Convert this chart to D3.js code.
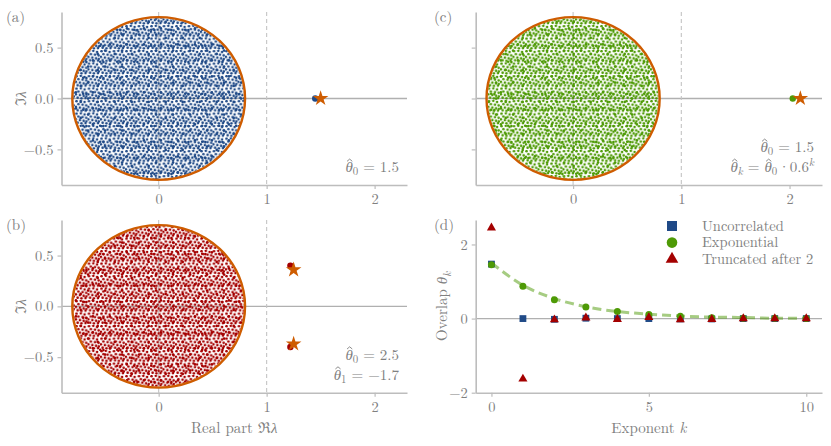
<!DOCTYPE html>
<html>
<head>
<meta charset="utf-8">
<script src="https://cdn.jsdelivr.net/npm/d3@7"></script>
<style>
  body { margin: 0; background: #fff; }
  text { fill: #808080; }
</style>
</head>
<body>
<svg id="fig" width="831" height="446"></svg>
<script>
// ---- data ----
const bulkRadius = 0.8;                 // radius of the eigenvalue bulk
const outlierA = [[1.45, 0]];
const predictedA = [[1.5, 0]];
const outlierB = [[1.22, 0.40], [1.22, -0.40]];
const predictedB = [[1.25, 0.36], [1.25, -0.37]];
const outlierC = [[2.03, 0]];
const predictedC = [[2.10, 0]];

const eigXTicks = [0, 1, 2];
const eigYTicks = [-0.5, 0, 0.5];

const exponents = [0, 1, 2, 3, 4, 5, 6, 7, 8, 9, 10];
const uncorrelated = [1.47, 0.0, -0.02, 0.01, 0.0, 0.0, -0.01, -0.01, 0.0, 0.0, 0.0];
const exponential = [1.45, 0.87, 0.51, 0.31, 0.19, 0.11, 0.06, 0.02, 0.01, 0.01, 0.0];
const truncated = [2.45, -1.63, -0.03, 0.02, -0.02, 0.03, -0.03, -0.02, 0.0, 0.0, 0.0];
const expTheory = [1.5, 0.9, 0.54, 0.32, 0.19, 0.12, 0.07, 0.04, 0.03, 0.01, 0.01];
const overlapXTicks = [0, 5, 10];
const overlapYTicks = [-2, 0, 2];

const legendLabels = ["Uncorrelated", "Exponential", "Truncated after 2"];

// ---- pick a serif face that is actually installed ----
const pickFont = list => {
  const ctx = document.createElement("canvas").getContext("2d");
  const probe = "Truncated after 2 0.5 θλ";
  const w = f => { ctx.font = "20px " + f; return ctx.measureText(probe).width; };
  const base = ["monospace", "sans-serif"].map(w);
  return list.find(f => {
    const q = `"${f}"`;
    return w(`${q}, monospace`) !== base[0] || w(`${q}, sans-serif`) !== base[1];
  });
};
const serifFace = pickFont(["Latin Modern Roman", "CMU Serif", "Liberation Serif", "DejaVu Serif",
  "Noto Serif", "Times New Roman", "Tinos", "FreeSerif"]);
const FONT = serifFace ? `"${serifFace}", serif` : "serif";

// ---- style ----
const blue = "#204a87", green = "#4e9a06", red = "#a40000", orange = "#ce5c00";
const spine = "#bdbdbd";
const fmt = d3.format(".1f");

const svg = d3.select("#fig").style("font-family", FONT);
const defs = svg.append("defs");

// the bulk of eigenvalues is drawn as a dotted texture inside the disk
const tileA = [[1.5,1.2],[5.8,0.8],[9.6,2.0],[3.4,4.1],[7.5,4.6],[11.2,5.4],[0.9,6.9],
               [4.9,7.6],[8.6,8.3],[2.6,10.3],[6.4,10.9],[10.5,10.6],[11.4,8.9]];
const tileB = [[3.1,2.6],[12.7,5.9],[7.9,12.4],[15.2,13.8],[1.4,14.1]];
const makeTexture = (id, color) => {
  const p1 = defs.append("pattern").attr("id", id + "1")
    .attr("patternUnits", "userSpaceOnUse").attr("width", 12.5).attr("height", 12.5);
  p1.selectAll("circle").data(tileA).join("circle")
    .attr("cx", d => d[0]).attr("cy", d => d[1]).attr("r", 1.3).attr("fill", color);
  const p2 = defs.append("pattern").attr("id", id + "2")
    .attr("patternUnits", "userSpaceOnUse").attr("width", 17).attr("height", 16);
  p2.selectAll("circle").data(tileB).join("circle")
    .attr("cx", d => d[0]).attr("cy", d => d[1]).attr("r", 1.3).attr("fill", color);
};
makeTexture("texBlue", blue);
makeTexture("texRed", red);
makeTexture("texGreen", green);

const styleAxis = g => {
  g.attr("font-family", FONT).attr("font-size", 14.5);
  g.select(".domain").attr("stroke", spine).attr("stroke-width", 1.6);
  g.selectAll(".tick line").attr("stroke", spine).attr("stroke-width", 1.2);
  g.selectAll(".tick text").attr("fill", "#808080");
};

// simple math-like text built from tspans; hats are drawn over the marked glyphs
const mathText = (g, x, y, parts, anchor = "end", size = 15) => {
  const t = g.append("text").attr("x", x).attr("y", y)
    .attr("text-anchor", anchor).style("font-size", size + "px");
  let shift = 0, count = 0;
  const hats = [];
  parts.forEach(p => {
    const target = p.sub ? 3 : p.sup ? -6 : 0;
    const s = t.append("tspan").text(p.t).attr("dy", target - shift);
    if (p.dx) s.attr("dx", p.dx);
    if (p.it) s.style("font-style", "italic");
    if (p.sub || p.sup) s.style("font-size", (size * 0.72) + "px");
    if (p.hat) hats.push(count);
    count += p.t.length;
    shift = target;
  });
  hats.forEach(i => {
    const e = t.node().getExtentOfChar(i);
    const cx = e.x + e.width * 0.58, top = y - size * 0.86;
    g.append("path")
      .attr("d", `M${cx - 2.6},${top + 2.2}L${cx},${top}L${cx + 2.6},${top + 2.2}`)
      .attr("fill", "none").attr("stroke", "#808080").attr("stroke-width", 0.9);
  });
  return t;
};

const panelLabel = (x, y, s) => svg.append("text").attr("x", x).attr("y", y)
  .style("font-size", "15px").text(s);

function eigenPanel(box, tex, color, outliers, predicted, o) {
  const x = d3.scaleLinear().domain([-0.9, 2.3]).range([box.l, box.r]);
  const y = d3.scaleLinear().domain([-0.85, 0.85]).range([box.b, box.t]);
  const g = svg.append("g");

  // reference lines
  g.append("line").attr("x1", box.l).attr("x2", box.r).attr("y1", y(0)).attr("y2", y(0))
    .attr("stroke", "#b0b0b0").attr("stroke-width", 1.3);
  g.append("line").attr("x1", x(0)).attr("x2", x(0)).attr("y1", box.t).attr("y2", box.b)
    .attr("stroke", "#c4c4c4").attr("stroke-width", 1.1);
  g.append("line").attr("x1", x(1)).attr("x2", x(1)).attr("y1", box.t).attr("y2", box.b)
    .attr("stroke", "#c4c4c4").attr("stroke-width", 1.1).attr("stroke-dasharray", "4,3");

  // bulk
  const rx = x(bulkRadius) - x(0), ry = y(0) - y(bulkRadius);
  ["1", "2"].forEach(k => g.append("ellipse")
    .attr("cx", x(0)).attr("cy", y(0)).attr("rx", rx - 1).attr("ry", ry - 1)
    .attr("fill", `url(#${tex}${k})`));
  g.append("ellipse").attr("cx", x(0)).attr("cy", y(0)).attr("rx", rx).attr("ry", ry)
    .attr("fill", "none").attr("stroke", orange).attr("stroke-width", 2.4);

  // outliers and predictions
  g.selectAll(".out").data(outliers).join("circle")
    .attr("cx", d => x(d[0])).attr("cy", d => y(d[1])).attr("r", 3.2).attr("fill", color);
  g.selectAll(".pred").data(predicted).join("path")
    .attr("transform", d => `translate(${x(d[0])},${y(d[1])})`)
    .attr("d", d3.symbol(d3.symbolStar, 75)).attr("fill", orange);

  // axes
  g.append("g").attr("transform", `translate(0,${box.b})`)
    .call(d3.axisBottom(x).tickValues(eigXTicks).tickSize(4).tickSizeOuter(0).tickPadding(5)
      .tickFormat(d3.format("d")))
    .call(styleAxis);
  g.append("g").attr("transform", `translate(${box.l},0)`)
    .call(d3.axisLeft(y).tickValues(eigYTicks).tickSize(4).tickSizeOuter(0).tickPadding(4)
      .tickFormat(o.yLabels ? fmt : ""))
    .call(styleAxis);

  if (o.yTitle) {
    const t = g.append("text").attr("transform", `translate(26,${(box.t + box.b) / 2}) rotate(-90)`)
      .attr("text-anchor", "middle").style("font-size", "15px");
    t.append("tspan").text("\u2111");
    t.append("tspan").text("\u03bb").style("font-style", "italic");
  }
  if (o.xTitle) {
    const t = g.append("text").attr("x", (box.l + box.r) / 2).attr("y", box.b + 40)
      .attr("text-anchor", "middle").style("font-size", "15px");
    t.append("tspan").text("Real part \u211c");
    t.append("tspan").text("\u03bb").style("font-style", "italic");
  }
  o.notes.forEach((parts, i) => mathText(g, box.r - 8, box.b - 13 - (o.notes.length - 1 - i) * 20, parts));
}

const boxA = {l: 61.5, r: 407, t: 12, b: 185};
const boxB = {l: 61.5, r: 407, t: 220, b: 392.7};
const boxC = {l: 475.7, r: 822, t: 12, b: 185};
const boxD = {l: 475.7, r: 822, t: 220, b: 392.7};

const th = {t: "\u03b8", it: true, hat: true};
eigenPanel(boxA, "texBlue", blue, outlierA, predictedA, {
  yLabels: true, yTitle: true,
  notes: [[th, {t: "0", sub: true}, {t: " = 1.5"}]]
});
eigenPanel(boxB, "texRed", red, outlierB, predictedB, {
  yLabels: true, yTitle: true, xTitle: true,
  notes: [
    [th, {t: "0", sub: true}, {t: " = 2.5"}],
    [th, {t: "1", sub: true}, {t: " = \u22121.7"}]
  ]
});
eigenPanel(boxC, "texGreen", green, outlierC, predictedC, {
  yLabels: false,
  notes: [
    [th, {t: "0", sub: true}, {t: " = 1.5"}],
    [th, {t: "k", sub: true, it: true}, {t: " = "},
     th, {t: "0", sub: true}, {t: "\u00b7", dx: 1}, {t: "0.6"}, {t: "k", sup: true, it: true}]
  ]
});

// ---- panel (d): overlaps ----
{
  const box = boxD;
  const x = d3.scaleLinear().domain([-0.5, 10.5]).range([box.l, box.r]);
  const y = d3.scaleLinear().domain([-2, 2.66]).range([box.b, box.t]);
  const g = svg.append("g");

  g.append("line").attr("x1", box.l).attr("x2", box.r).attr("y1", y(0)).attr("y2", y(0))
    .attr("stroke", "#b0b0b0").attr("stroke-width", 1.3);

  g.append("path").datum(exponents)
    .attr("d", d3.line().x(k => x(k)).y((k, i) => y(expTheory[i])).curve(d3.curveMonotoneX))
    .attr("fill", "none").attr("stroke", green).attr("stroke-opacity", 0.5)
    .attr("stroke-width", 3).attr("stroke-dasharray", "9,5");

  g.selectAll(".sq").data(exponents).join("rect")
    .attr("x", k => x(k) - 3.4).attr("y", (k, i) => y(uncorrelated[i]) - 3.4)
    .attr("width", 6.8).attr("height", 6.8).attr("fill", blue);
  g.selectAll(".ci").data(exponents).join("circle")
    .attr("cx", k => x(k)).attr("cy", (k, i) => y(exponential[i])).attr("r", 3.5).attr("fill", green);
  g.selectAll(".tr").data(exponents).join("path")
    .attr("transform", (k, i) => `translate(${x(k)},${y(truncated[i])})`)
    .attr("d", d3.symbol(d3.symbolTriangle, 36)).attr("fill", red);

  g.append("g").attr("transform", `translate(0,${box.b})`)
    .call(d3.axisBottom(x).tickValues(overlapXTicks).tickSize(4).tickSizeOuter(0).tickPadding(5))
    .call(styleAxis);
  g.append("g").attr("transform", `translate(${box.l},0)`)
    .call(d3.axisLeft(y).tickValues(overlapYTicks).tickSize(4).tickSizeOuter(0).tickPadding(4)
      .tickFormat(d3.format("d")))
    .call(styleAxis);

  const yt = g.append("text").attr("transform", `translate(447,${(box.t + box.b) / 2}) rotate(-90)`)
    .attr("text-anchor", "middle").style("font-size", "15px");
  yt.append("tspan").text("Overlap ");
  yt.append("tspan").text("\u03b8").style("font-style", "italic");
  yt.append("tspan").text("k").style("font-style", "italic").style("font-size", "11px").attr("dy", 4);

  const xt = g.append("text").attr("x", (box.l + box.r) / 2).attr("y", box.b + 40)
    .attr("text-anchor", "middle").style("font-size", "15px");
  xt.append("tspan").text("Exponent ");
  xt.append("tspan").text("k").style("font-style", "italic");

  // legend
  const lg = g.append("g").attr("transform", "translate(672,226)");
  const rows = lg.selectAll("g").data(legendLabels).join("g")
    .attr("transform", (d, i) => `translate(0,${i * 16.6})`);
  rows.filter((d, i) => i === 0).append("rect")
    .attr("x", -5).attr("y", -5).attr("width", 10).attr("height", 10).attr("fill", blue);
  rows.filter((d, i) => i === 1).append("circle").attr("r", 5.3).attr("fill", green);
  rows.filter((d, i) => i === 2).append("path")
    .attr("d", d3.symbol(d3.symbolTriangle, 70)).attr("fill", red);
  rows.append("text").attr("x", 30).attr("dy", "0.33em").style("font-size", "14.5px").text(d => d);
}

panelLabel(6, 22, "(a)");
panelLabel(6, 230, "(b)");
panelLabel(434, 22, "(c)");
panelLabel(434, 230, "(d)");
</script>
</body>
</html>
